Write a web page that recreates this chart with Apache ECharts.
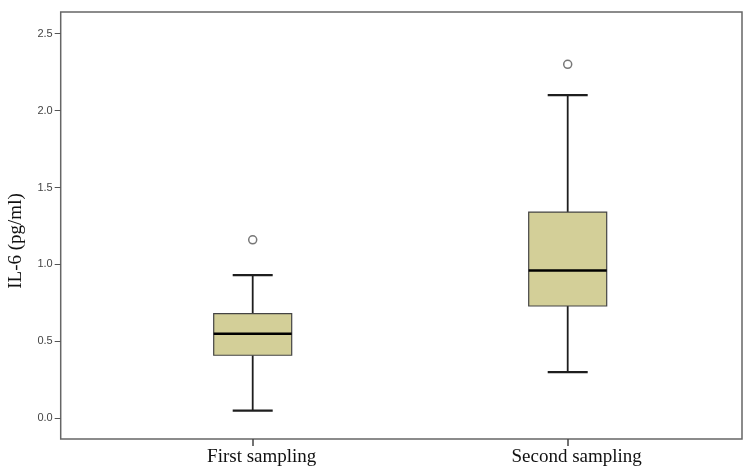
<!DOCTYPE html>
<html>
<head>
<meta charset="utf-8">
<script src="https://cdn.jsdelivr.net/npm/echarts@6/dist/echarts.min.js"></script>
<style>
  html, body { margin: 0; padding: 0; background: #fff; }
  #chart { width: 749px; height: 470px; }
</style>
</head>
<body>
<div id="chart"></div>
<script>
const categories = ['First sampling', 'Second sampling']
const lowerWhisker = [0.05, 0.30]
const q1 = [0.41, 0.73]
const median = [0.55, 0.96]
const q3 = [0.68, 1.34]
const upperWhisker = [0.93, 2.10]
const outliers = [1.16, 2.30]
const yTicks = [0, 0.5, 1.0, 1.5, 2.0, 2.5]

const yMin = -0.134
const yMax = 2.64

const boxData = categories.map((c, i) => [i, lowerWhisker[i], q1[i], median[i], q3[i], upperWhisker[i]])
const outlierData = outliers.map((v, i) => [i, v])

const chart = echarts.init(document.getElementById('chart'))

function renderBox(params, api) {
  const x = api.value(0)
  const lo = api.coord([x, api.value(1)])
  const b1 = api.coord([x, api.value(2)])
  const md = api.coord([x, api.value(3)])
  const b3 = api.coord([x, api.value(4)])
  const hi = api.coord([x, api.value(5)])
  const cx = lo[0]
  const hw = 39
  const cw = 20
  const stroke = { stroke: '#1e1e1e', lineWidth: 1.8 }
  return {
    type: 'group',
    children: [
      { type: 'line', shape: { x1: cx, y1: b1[1], x2: cx, y2: lo[1] }, style: stroke },
      { type: 'line', shape: { x1: cx, y1: b3[1], x2: cx, y2: hi[1] }, style: stroke },
      { type: 'line', shape: { x1: cx - cw, y1: lo[1], x2: cx + cw, y2: lo[1] }, style: { stroke: '#1e1e1e', lineWidth: 2.2 } },
      { type: 'line', shape: { x1: cx - cw, y1: hi[1], x2: cx + cw, y2: hi[1] }, style: { stroke: '#1e1e1e', lineWidth: 2.2 } },
      {
        type: 'rect',
        shape: { x: cx - hw, y: b3[1], width: hw * 2, height: b1[1] - b3[1] },
        style: { fill: '#d3cf98', stroke: '#444', lineWidth: 1.2 }
      },
      { type: 'line', shape: { x1: cx - hw, y1: md[1], x2: cx + hw, y2: md[1] }, style: { stroke: '#000', lineWidth: 2.5 } }
    ]
  }
}

const option = {
  animation: false,
  grid: [
    { left: 60.7, right: 7, top: 12, bottom: 31, show: true, borderColor: '#666', borderWidth: 1.5 },
    { left: 95.2, right: 23.8, top: 12, bottom: 31 }
  ],
  xAxis: [
    { type: 'value', gridIndex: 0, show: false },
    {
      type: 'category',
      gridIndex: 1,
      data: categories,
      axisLine: { show: false, onZero: false },
      axisTick: { show: true, alignWithLabel: true, length: 7, lineStyle: { color: '#444', width: 1.5 } },
      axisLabel: {
        margin: 9,
        padding: [0, 0, 0, 18],
        fontFamily: 'Liberation Serif',
        fontSize: 19,
        color: '#111'
      }
    }
  ],
  yAxis: [
    {
      type: 'value',
      gridIndex: 0,
      min: yMin,
      max: yMax,
      axisLine: { show: false },
      splitLine: { show: false },
      axisTick: { show: true, customValues: yTicks, length: 6, lineStyle: { color: '#555', width: 1 } },
      axisLabel: {
        customValues: yTicks,
        margin: 8,
        fontFamily: 'Liberation Sans',
        fontSize: 11,
        color: '#444',
        formatter: (v) => v.toFixed(1)
      }
    },
    { type: 'value', gridIndex: 1, min: yMin, max: yMax, show: false }
  ],
  graphic: [
    {
      type: 'text',
      x: 16,
      y: 241,
      rotation: Math.PI / 2,
      style: {
        text: 'IL-6 (pg/ml)',
        font: '19px "Liberation Serif"',
        fill: '#111',
        align: 'center',
        verticalAlign: 'middle',
        textAlign: 'center',
        textVerticalAlign: 'middle'
      }
    }
  ],
  series: [
    {
      type: 'custom',
      xAxisIndex: 1,
      yAxisIndex: 1,
      renderItem: renderBox,
      data: boxData
    },
    {
      type: 'scatter',
      xAxisIndex: 1,
      yAxisIndex: 1,
      symbol: 'circle',
      symbolSize: 8,
      itemStyle: { color: '#fff', borderColor: '#555', borderWidth: 1.5 },
      data: outlierData
    }
  ]
}

chart.setOption(option)
</script>
</body>
</html>
